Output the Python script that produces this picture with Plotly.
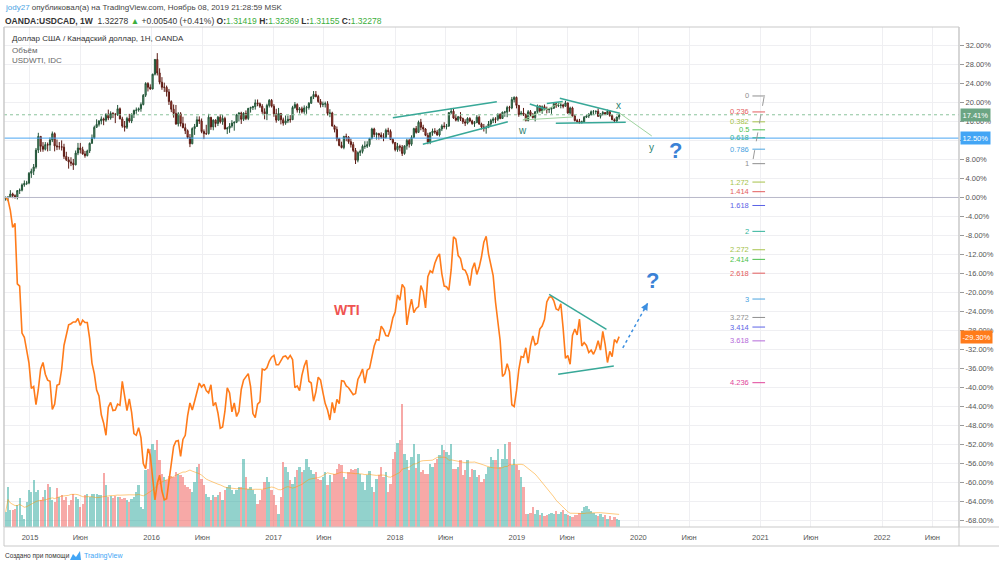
import pandas as pd
import numpy as np
import plotly.graph_objects as go

# ---------------- DATA ----------------
week_start = "2014-10-20"          # first weekly bar (Monday)
first_open = 1.1230

usdcad_close = [
1.1266,1.1270,1.1350,1.1310,1.1280,1.1430,1.1440,1.1565,1.1600,1.1610,
1.1840,1.1890,1.1990,1.2390,1.2715,1.2480,1.2410,1.2520,1.2510,1.2630,
1.2780,1.2490,1.2470,1.2470,1.2460,1.2240,1.2160,1.2110,1.2080,1.2040,
1.2320,1.2440,1.2400,1.2300,1.2260,1.2370,1.2550,1.2680,1.2930,1.3000,
1.3080,1.3130,1.3100,1.3240,1.3150,1.3260,1.3240,1.3230,1.3370,1.3130,
1.2960,1.2930,1.3140,1.3080,1.3240,1.3330,1.3340,1.3370,1.3470,1.3690,
1.3970,1.3880,1.3840,1.4190,1.4540,1.4220,1.4000,1.3880,1.3880,1.3770,
1.3540,1.3360,1.3260,1.3010,1.3250,1.3020,1.2920,1.2850,1.2690,1.2540,
1.2900,1.2950,1.3110,1.3080,1.2830,1.2780,1.2780,1.3170,1.2940,1.3100,
1.3020,1.3170,1.3060,1.3140,1.2890,1.2910,1.2960,1.3030,1.3050,1.3230,
1.3270,1.3120,1.3260,1.3140,1.3380,1.3400,1.3420,1.3510,1.3490,1.3430,
1.3300,1.3250,1.3450,1.3570,1.3430,1.3250,1.3100,1.3260,1.3110,1.3030,
1.3080,1.3120,1.3110,1.3400,1.3470,1.3340,1.3370,1.3300,1.3390,1.3400,
1.3500,1.3650,1.3710,1.3660,1.3540,1.3470,1.3480,1.3490,1.3260,1.3270,
1.2960,1.2880,1.2660,1.2500,1.2450,1.2710,1.2700,1.2590,1.2520,1.2380,
1.2150,1.2330,1.2360,1.2480,1.2480,1.2520,1.2670,1.2890,1.2760,1.2780,
1.2750,1.2700,1.2690,1.2860,1.2830,1.2640,1.2570,1.2400,1.2480,1.2460,
1.2310,1.2490,1.2620,1.2530,1.2690,1.2900,1.2810,1.3050,1.2930,1.2890,
1.2740,1.2580,1.2800,1.2840,1.2820,1.2750,1.2890,1.2960,1.2950,1.2960,
1.3280,1.3310,1.3150,1.3100,1.3180,1.3140,1.3060,1.3030,1.3140,1.3080,
1.3020,1.3040,1.3170,1.3010,1.2940,1.2910,1.2930,1.3010,1.3090,1.3130,
1.3120,1.3240,1.3140,1.3290,1.3290,1.3400,1.3390,1.3590,1.3640,1.3450,
1.3230,1.3270,1.3240,1.3090,1.3300,1.3230,1.3160,1.3300,1.3440,1.3320,
1.3420,1.3360,1.3350,1.3360,1.3380,1.3490,1.3440,1.3450,1.3460,1.3430,
1.3510,1.3270,1.3390,1.3200,1.3090,1.3070,1.3040,1.3060,1.3170,1.3200,
1.3230,1.3300,1.3300,1.3310,1.3190,1.3250,1.3280,1.3240,1.3310,1.3210,
1.3110,1.3080,1.3174,1.32278]

usdcad_high = [
1.1290,1.1300,1.1440,1.1380,1.1340,1.1440,1.1480,1.1600,1.1670,1.1660,
1.1870,1.1950,1.2060,1.2440,1.2800,1.2720,1.2580,1.2580,1.2570,1.2690,
1.2830,1.2810,1.2640,1.2580,1.2620,1.2540,1.2350,1.2230,1.2220,1.2180,
1.2380,1.2560,1.2560,1.2470,1.2370,1.2400,1.2570,1.2760,1.2970,1.3120,
1.3100,1.3190,1.3160,1.3260,1.3350,1.3310,1.3290,1.3270,1.3460,1.3400,
1.3180,1.3080,1.3180,1.3250,1.3260,1.3350,1.3400,1.3400,1.3520,1.3720,
1.4000,1.4000,1.3950,1.4200,1.4550,1.4690,1.4330,1.4120,1.3990,1.3920,
1.3840,1.3570,1.3470,1.3460,1.3290,1.3290,1.3180,1.3020,1.2880,1.2770,
1.2930,1.3010,1.3190,1.3190,1.3140,1.2880,1.2990,1.3250,1.3160,1.3120,
1.3120,1.3200,1.3240,1.3220,1.3180,1.2940,1.3030,1.3100,1.3070,1.3250,
1.3290,1.3300,1.3290,1.3330,1.3390,1.3420,1.3440,1.3590,1.3590,1.3520,
1.3480,1.3380,1.3490,1.3600,1.3600,1.3480,1.3370,1.3390,1.3260,1.3160,
1.3210,1.3210,1.3220,1.3440,1.3530,1.3500,1.3410,1.3420,1.3450,1.3440,
1.3530,1.3660,1.3790,1.3790,1.3700,1.3600,1.3540,1.3540,1.3550,1.3360,
1.3300,1.2990,1.2950,1.2680,1.2590,1.2730,1.2780,1.2720,1.2660,1.2580,
1.2440,1.2360,1.2400,1.2520,1.2600,1.2600,1.2670,1.2920,1.2920,1.2810,
1.2800,1.2810,1.2790,1.2900,1.2920,1.2880,1.2670,1.2580,1.2560,1.2520,
1.2510,1.2500,1.2660,1.2660,1.2740,1.2920,1.2960,1.3090,1.3130,1.2990,
1.2910,1.2800,1.2820,1.2900,1.2910,1.2870,1.2900,1.3000,1.3050,1.3010,
1.3290,1.3390,1.3390,1.3240,1.3200,1.3290,1.3160,1.3120,1.3170,1.3170,
1.3110,1.3080,1.3220,1.3210,1.3040,1.3010,1.2970,1.3080,1.3130,1.3170,
1.3170,1.3260,1.3260,1.3300,1.3320,1.3440,1.3440,1.3650,1.3665,1.3660,
1.3460,1.3320,1.3390,1.3250,1.3340,1.3340,1.3270,1.3310,1.3470,1.3440,
1.3450,1.3470,1.3420,1.3380,1.3410,1.3520,1.3520,1.3520,1.3520,1.3490,
1.3560,1.3510,1.3420,1.3420,1.3230,1.3130,1.3130,1.3090,1.3200,1.3230,
1.3270,1.3330,1.3340,1.3330,1.3380,1.3260,1.3320,1.3290,1.3350,1.3340,
1.3230,1.3140,1.3185,1.32369]

usdcad_low = [
1.1190,1.1180,1.1260,1.1250,1.1240,1.1220,1.1350,1.1410,1.1520,1.1560,
1.1580,1.1730,1.1800,1.1950,1.2320,1.2350,1.2350,1.2380,1.2360,1.2370,
1.2580,1.2360,1.2390,1.2400,1.2380,1.2180,1.2130,1.1950,1.2010,1.1920,
1.2030,1.2270,1.2310,1.2280,1.2210,1.2240,1.2320,1.2540,1.2650,1.2920,
1.2950,1.3000,1.2980,1.3060,1.3100,1.3110,1.3150,1.3030,1.3200,1.3120,
1.2920,1.2830,1.2890,1.3040,1.3030,1.3150,1.3250,1.3300,1.3300,1.3450,
1.3650,1.3780,1.3820,1.3830,1.4160,1.4160,1.3950,1.3820,1.3770,1.3660,
1.3460,1.3290,1.3160,1.2990,1.2950,1.2950,1.2910,1.2770,1.2660,1.2460,
1.2530,1.2750,1.2940,1.3010,1.2790,1.2650,1.2750,1.2760,1.2870,1.2860,
1.2930,1.2960,1.3020,1.2990,1.2880,1.2770,1.2800,1.2920,1.2850,1.3030,
1.3070,1.3010,1.3080,1.3100,1.3100,1.3280,1.3340,1.3350,1.3430,1.3390,
1.3250,1.3120,1.3100,1.3400,1.3400,1.3180,1.3040,1.3090,1.3000,1.2970,
1.2990,1.3030,1.3040,1.3110,1.3370,1.3280,1.3260,1.3260,1.3250,1.3250,
1.3350,1.3490,1.3600,1.3640,1.3510,1.3400,1.3410,1.3400,1.3210,1.3170,
1.2950,1.2810,1.2600,1.2480,1.2430,1.2410,1.2600,1.2540,1.2450,1.2340,
1.2060,1.2100,1.2250,1.2310,1.2420,1.2440,1.2470,1.2640,1.2700,1.2640,
1.2640,1.2660,1.2600,1.2660,1.2750,1.2630,1.2530,1.2360,1.2350,1.2360,
1.2250,1.2280,1.2400,1.2450,1.2490,1.2680,1.2780,1.2800,1.2860,1.2820,
1.2720,1.2530,1.2530,1.2730,1.2770,1.2730,1.2710,1.2840,1.2900,1.2880,
1.2940,1.3240,1.3130,1.3070,1.3060,1.3080,1.3010,1.2960,1.3000,1.3050,
1.2990,1.2940,1.3040,1.2990,1.2880,1.2830,1.2780,1.2910,1.2960,1.3030,
1.3030,1.3080,1.3120,1.3130,1.3180,1.3170,1.3300,1.3360,1.3520,1.3380,
1.3180,1.3220,1.3200,1.3070,1.3070,1.3190,1.3140,1.3070,1.3250,1.3290,
1.3250,1.3330,1.3260,1.3270,1.3250,1.3370,1.3390,1.3410,1.3380,1.3380,
1.3420,1.3250,1.3240,1.3180,1.3070,1.3040,1.3020,1.3020,1.3040,1.3150,
1.3150,1.3210,1.3220,1.3240,1.3180,1.3140,1.3210,1.3220,1.3230,1.3180,
1.3100,1.3040,1.3040,1.31155]

wti_close = [
80.9,80.5,78.7,75.8,76.5,66.2,65.8,57.8,57.1,54.7,
52.7,48.4,48.7,45.6,48.2,51.7,52.8,50.8,49.8,49.6,
44.8,45.7,48.9,49.1,51.6,55.7,57.2,59.2,59.4,59.7,
59.7,60.3,59.1,60.0,59.6,59.6,56.9,52.7,50.9,48.1,
47.1,43.9,42.5,40.4,45.2,46.0,44.6,44.7,45.7,45.5,
49.6,47.3,44.6,46.6,44.3,40.7,40.4,41.7,40.0,35.6,
34.7,38.1,37.0,33.2,29.4,32.2,33.6,30.9,29.4,29.6,
32.8,35.9,38.5,39.4,39.5,36.8,39.7,40.4,43.7,45.9,
44.7,46.2,47.8,49.3,48.6,49.1,48.0,47.6,49.0,45.4,
46.0,44.2,41.6,41.8,44.5,48.5,47.6,44.4,45.9,43.6,
44.5,48.2,49.8,50.4,50.9,48.7,44.1,43.4,45.7,46.1,
51.7,51.5,51.9,53.0,53.7,54.0,52.4,52.4,53.2,53.8,
53.9,53.4,54.0,53.3,48.5,48.8,48.0,50.6,52.2,53.2,
49.6,49.3,46.2,47.8,50.3,49.8,47.7,45.8,44.7,43.0,
46.0,44.2,46.5,45.8,49.7,49.6,48.8,48.5,47.9,47.3,
47.5,49.9,50.7,51.7,49.3,51.5,51.8,53.9,55.6,56.7,
56.6,59.0,58.4,57.4,57.3,58.5,60.4,61.4,64.3,63.4,
66.1,65.5,59.2,61.7,63.6,61.3,62.0,62.3,65.9,64.9,
62.1,67.4,68.4,68.1,69.7,70.7,71.3,67.9,65.8,65.7,
65.1,68.6,74.2,73.8,71.0,70.5,68.7,68.5,67.6,65.9,
68.7,69.8,67.8,69.0,70.8,73.3,74.3,71.3,69.1,67.6,
63.1,60.2,56.5,50.4,50.9,52.6,51.2,45.6,45.3,48.0,
51.6,53.8,53.7,55.3,52.7,55.6,57.3,55.8,56.1,58.5,
59.0,60.1,63.1,63.9,64.0,63.3,61.9,61.7,62.8,58.6,
53.5,54.0,52.5,57.4,58.5,57.5,60.2,55.6,56.2,55.7,
54.5,54.9,54.2,55.1,56.5,54.9,58.1,55.9,52.8,54.7,
53.8,56.7,56.2,57.2]

volume = [
15,40,17,17,18,22,29,12,8,25,
37,35,47,35,37,27,30,37,43,40,
27,25,39,30,32,27,30,22,27,33,
30,28,20,23,32,33,30,33,33,33,
32,32,54,42,30,31,29,31,30,30,
28,29,27,25,28,30,35,42,20,18,
57,58,78,83,77,87,67,53,50,47,
51,51,50,55,53,52,50,42,40,38,
35,45,60,63,48,42,33,30,27,32,
30,32,35,27,37,40,42,37,33,37,
40,40,68,50,38,40,37,33,23,27,
37,45,50,45,37,32,22,13,30,65,
60,55,47,43,50,57,60,55,57,68,
60,57,53,55,48,
47,50,55,42,52,45,53,58,63,62,
50,48,55,58,57,58,59,53,45,37,
52,56,40,35,48,52,60,50,55,35,
43,68,75,84,87,123,73,67,57,70,
83,59,73,55,57,53,53,63,60,64,
68,72,82,77,75,72,83,58,58,60,
67,52,57,67,50,58,57,50,52,45,
48,53,60,70,67,67,78,60,68,83,
68,85,62,68,62,57,50,40,13,13,
14,20,13,17,12,14,11,12,13,14,
13,16,13,15,17,13,12,11,10,12,
12,14,16,20,21,18,16,14,12,11,
13,10,12,8,11,7,10,8,7]

tick_dates = ["2015-01-01","2015-06-01","2016-01-01","2016-06-01","2017-01-01","2017-06-01",
              "2018-01-01","2018-06-01","2019-01-01","2019-06-01","2020-01-01","2020-06-01",
              "2021-01-01","2021-06-01","2022-01-01","2022-06-01"]
tick_labels = ["2015","Июн","2016","Июн","2017","Июн","2018","Июн","2019","Июн",
               "2020","Июн","2021","Июн","2022","Июн"]
pct_ticks = list(range(-68, 33, 4))

blue_level = 12.50
fib_levels = [0, 0.236, 0.382, 0.5, 0.618, 0.786, 1, 1.272, 1.414, 1.618,
              2, 2.272, 2.414, 2.618, 3, 3.272, 3.414, 3.618, 4.236]
fib_colors = ["#8f8f8f","#e35d5d","#a6c24a","#4cbf4c","#30b39a","#4aa3df","#8f8f8f",
              "#a6c24a","#e35d5d","#5b63e6","#30b39a","#a6c24a","#4cbf4c","#e35d5d",
              "#4aa3df","#8f8f8f","#5b63e6","#b46ad9","#e0449a"]
fib_pct_0 = 21.37
fib_pct_1 = 7.12

# user drawings (date, percent)
teal_lines = [
    (("2017-12-25", 16.8), ("2018-11-02", 20.17)),
    (("2018-03-25", 11.2), ("2018-12-05", 15.96)),
    (("2019-02-09", 19.68), ("2019-04-01", 18.53)),
    (("2019-04-01", 19.79), ("2019-05-19", 20.21)),
    (("2019-05-10", 20.88), ("2019-11-06", 17.73)),
    (("2019-04-28", 15.62), ("2019-11-24", 15.83)),
    (("2019-04-08", -20.38), ("2019-09-27", -27.75)),
    (("2019-05-05", -37.22), ("2019-10-19", -35.47)),
]
light_lines = [
    (("2019-01-19", 16.32), ("2019-05-19", 20.10)),
    (("2019-01-19", 16.32), ("2019-06-18", 16.95)),
    (("2019-11-06", 17.73), ("2020-02-10", 12.95)),
]
wave_labels = [("w", "2019-01-19", 14.0), ("x", "2019-11-03", 19.47), ("y", "2020-02-10", 10.42)]
question_marks = [("2020-04-22", 9.79), ("2020-02-13", -17.58)]
blue_arrow = (("2019-11-15", -31.68), ("2020-01-29", -22.21))
wti_text = ("WTI", "2017-08-09", -23.68)
fib_dash = (("2021-01-12", 21.16), ("2020-12-10", 8.0))

# ---------------- DERIVED ----------------
n = len(usdcad_close)
assert len(usdcad_high) == n and len(usdcad_low) == n and len(wti_close) == n and len(volume) == n
dates = pd.date_range(week_start, periods=n, freq="7D")
c = np.array(usdcad_close)
o = np.concatenate([[first_open], c[:-1]])
h = np.maximum(np.array(usdcad_high), np.maximum(o, c))
l = np.minimum(np.array(usdcad_low), np.minimum(o, c))
base = c[0]
to_pct = lambda v: (np.asarray(v) / base - 1) * 100
o_p, h_p, l_p, c_p = to_pct(o), to_pct(h), to_pct(l), to_pct(c)
wti = np.array(wti_close)
wti_p = (wti / wti[0] - 1) * 100
vol = np.array(volume, dtype=float)
vol_ma = pd.Series(vol).rolling(20, min_periods=1).mean().values
vol_colors = ["rgba(38,166,154,0.5)" if cc >= oo else "rgba(239,83,80,0.5)" for oo, cc in zip(o, c)]

FONT = "Liberation Sans, Arial, sans-serif"
L, R, T, B = 4, 41, 27, 41
W, H = 1000, 568
PW, PH = W - L - R, H - T - B
px = lambda x: (x - L) / PW
py = lambda y: (H - B - y) / PH

fig = go.Figure()
fig.add_trace(go.Bar(x=dates, y=vol, marker=dict(color=vol_colors, line=dict(width=0)),
                     width=7 * 86400000 * 0.97, yaxis="y", hoverinfo="skip", showlegend=False))
fig.add_trace(go.Scatter(x=dates, y=vol_ma, mode="lines", yaxis="y",
                         line=dict(color="rgba(255,152,0,0.5)", width=1), showlegend=False))
fig.add_trace(go.Scatter(x=dates, y=wti_p, mode="lines", yaxis="y2",
                         line=dict(color="#ff7b1a", width=1.6), showlegend=False))
fig.add_trace(go.Candlestick(x=dates, open=o_p, high=h_p, low=l_p, close=c_p, yaxis="y2",
                             increasing=dict(line=dict(color="#225437", width=1), fillcolor="#6ba583"),
                             decreasing=dict(line=dict(color="#5b1a13", width=1), fillcolor="#d75442"),
                             whiskerwidth=0, showlegend=False))

shapes = []
ann = []
shapes.append(dict(type="line", xref="paper", x0=0, x1=1, yref="y2", y0=0, y1=0,
                   line=dict(color="#b9b9c9", width=1)))
shapes.append(dict(type="line", xref="paper", x0=0, x1=1, yref="y2", y0=blue_level, y1=blue_level,
                   line=dict(color="#4aa6f2", width=1)))
shapes.append(dict(type="line", xref="paper", x0=0, x1=1, yref="y2", y0=c_p[-1], y1=c_p[-1],
                   line=dict(color="#8cc49c", width=1, dash="dot")))
fx0, fx1, flab = "2020-12-08", "2021-01-15", "2020-12-04"
for lv, col in zip(fib_levels, fib_colors):
    yv = fib_pct_0 - (fib_pct_0 - fib_pct_1) * lv
    shapes.append(dict(type="line", xref="x", yref="y2", x0=fx0, x1=fx1, y0=yv, y1=yv,
                       line=dict(color=col, width=1)))
    ann.append(dict(xref="x", yref="y2", x=flab, y=yv, text=f"{lv:g}", showarrow=False,
                    xanchor="right", yanchor="middle", font=dict(size=7.5, color=col, family=FONT)))
shapes.append(dict(type="line", xref="x", yref="y2", x0=fib_dash[0][0], y0=fib_dash[0][1],
                   x1=fib_dash[1][0], y1=fib_dash[1][1], line=dict(color="#9a9a9a", width=1, dash="dash")))
for (a, b) in teal_lines:
    shapes.append(dict(type="line", xref="x", yref="y2", x0=a[0], y0=a[1], x1=b[0], y1=b[1],
                       line=dict(color="#38a898", width=1.5)))
for (a, b) in light_lines:
    shapes.append(dict(type="line", xref="x", yref="y2", x0=a[0], y0=a[1], x1=b[0], y1=b[1],
                       line=dict(color="#9fd49f", width=1)))
shapes.append(dict(type="line", xref="x", yref="y2", x0=blue_arrow[0][0], y0=blue_arrow[0][1],
                   x1=blue_arrow[1][0], y1=blue_arrow[1][1], line=dict(color="#3d8fe0", width=1.5, dash="dot")))
t0, t1 = pd.Timestamp(blue_arrow[0][0]), pd.Timestamp(blue_arrow[1][0])
back_x = t1 - (t1 - t0) * 0.2
back_y = blue_arrow[1][1] - (blue_arrow[1][1] - blue_arrow[0][1]) * 0.2
ann.append(dict(xref="x", yref="y2", x=blue_arrow[1][0], y=blue_arrow[1][1], axref="x", ayref="y2",
                ax=back_x, ay=back_y, text="", showarrow=True, arrowhead=2, arrowsize=1.2,
                arrowwidth=1.2, arrowcolor="#3d8fe0"))
for t, xd, yv in wave_labels:
    ann.append(dict(xref="x", yref="y2", x=xd, y=yv, text=t, showarrow=False,
                    font=dict(size=10, color="#2b7f70", family=FONT)))
for xd, yv in question_marks:
    ann.append(dict(xref="x", yref="y2", x=xd, y=yv, text="<b>?</b>", showarrow=False,
                    font=dict(size=22, color="#3b82d6", family=FONT)))
ann.append(dict(xref="x", yref="y2", x=wti_text[1], y=wti_text[2], text=f"<b>{wti_text[0]}</b>",
                showarrow=False, font=dict(size=14, color="#ef5350", family=FONT)))

for val, bg in [(c_p[-1], "#6ba583"), (blue_level, "#42a5f5"), (wti_p[-1], "#ff7b1a")]:
    ann.append(dict(xref="paper", yref="y2", x=1.0, y=val, text=f"{val:.2f}%", showarrow=False,
                    xanchor="left", yanchor="middle", bgcolor=bg, borderpad=1.5, xshift=1,
                    font=dict(size=7.5, color="white", family=FONT)))

# tick labels hidden behind the 12.50% marker box, as in the original
covered = {12}
pct_ticktext = ["" if v in covered else f"{v:.2f}%" for v in pct_ticks]

GREEN = "#3cae3c"
ann.append(dict(xref="paper", yref="paper", x=px(3), y=py(8), xanchor="left", yanchor="middle", showarrow=False,
                text='<span style="color:#4ba3e3">jody27</span> опубликовал(а) на TradingView.com, Ноябрь 08, 2019 21:28:59 MSK',
                font=dict(size=8, color="#444", family=FONT)))
ann.append(dict(xref="paper", yref="paper", x=px(3), y=py(21), xanchor="left", yanchor="middle", showarrow=False,
                text=('<b>OANDA:USDCAD, 1W</b>  1.32278 <span style="color:%s">▲</span> +0.00540 (+0.41%%) '
                      '<b>O:</b><span style="color:%s">1.31419</span> <b>H:</b><span style="color:%s">1.32369</span> '
                      '<b>L:</b><span style="color:%s">1.31155</span> <b>C:</b><span style="color:%s">1.32278</span>')
                     % (GREEN, GREEN, GREEN, GREEN, GREEN),
                font=dict(size=8.5, color="#333", family=FONT)))
ann.append(dict(xref="paper", yref="paper", x=px(10), y=py(38), xanchor="left", yanchor="middle", showarrow=False,
                text="Доллар США / Канадский доллар, 1H, OANDA", font=dict(size=8, color="#333", family=FONT)))
ann.append(dict(xref="paper", yref="paper", x=px(10), y=py(50), xanchor="left", yanchor="middle", showarrow=False,
                text="Объём", font=dict(size=8, color="#666", family=FONT)))
ann.append(dict(xref="paper", yref="paper", x=px(10), y=py(61), xanchor="left", yanchor="middle", showarrow=False,
                text="USDWTI, IDC", font=dict(size=8, color="#666", family=FONT)))
ann.append(dict(xref="paper", yref="paper", x=px(3), y=py(556), xanchor="left", yanchor="middle", showarrow=False,
                text="Создано при помощи", font=dict(size=6.5, color="#333", family=FONT)))
ann.append(dict(xref="paper", yref="paper", x=px(82), y=py(556), xanchor="left", yanchor="middle", showarrow=False,
                text="TradingView", font=dict(size=7, color="#42a5f5", family=FONT)))
shapes.append(dict(type="path", xref="paper", yref="paper", fillcolor="#42a5f5", line=dict(width=0),
                   path=f"M {px(70)},{py(560)} L {px(73)},{py(554)} L {px(76)},{py(557)} L {px(80)},{py(551)} "
                        f"L {px(81)},{py(560)} Z"))
shapes.append(dict(type="rect", xref="paper", yref="paper", x0=0, x1=1, y0=0, y1=1,
                   line=dict(color="#c9c9c9", width=1)))
shapes.append(dict(type="line", xref="paper", yref="paper", x0=1, x1=1, y0=1, y1=py(546),
                   line=dict(color="#c9c9c9", width=1)))
shapes.append(dict(type="line", xref="paper", yref="paper", x0=0, x1=0, y0=1, y1=py(546),
                   line=dict(color="#c9c9c9", width=1)))
shapes.append(dict(type="line", xref="paper", yref="paper", x0=0, x1=px(999), y0=py(546), y1=py(546),
                   line=dict(color="#c9c9c9", width=1)))
shapes.append(dict(type="line", xref="paper", yref="paper", x0=1, x1=px(999), y0=0, y1=0,
                   line=dict(color="#c9c9c9", width=1)))

fig.update_layout(
    width=W, height=H, margin=dict(l=L, r=R, t=T, b=B),
    paper_bgcolor="white", plot_bgcolor="white", showlegend=False,
    font=dict(family=FONT, size=8, color="#555"),
    bargap=0,
    xaxis=dict(type="date", range=["2014-10-15", "2022-08-20"], tickvals=tick_dates, ticktext=tick_labels,
               showgrid=True, gridcolor="#efeff2", gridwidth=1, zeroline=False,
               ticks="outside", ticklen=3, tickcolor="rgba(0,0,0,0)",
               tickfont=dict(size=7.5, color="#555", family=FONT),
               rangeslider=dict(visible=False), showline=False, fixedrange=True),
    yaxis=dict(range=[0, PH], visible=False, showgrid=False, fixedrange=True),
    yaxis2=dict(overlaying="y", side="right", range=[-69.37, 35.89], tickvals=pct_ticks,
                ticktext=pct_ticktext, showgrid=True, gridcolor="#efeff2",
                zeroline=False, ticks="outside", ticklen=4, tickcolor="#999",
                tickfont=dict(size=7.5, color="#555", family=FONT), showline=False, fixedrange=True),
    shapes=shapes, annotations=ann,
)
fig.write_html("out.html", config={"displayModeBar": False},
               post_script="document.body.style.margin='0';document.body.style.overflow='hidden';")
